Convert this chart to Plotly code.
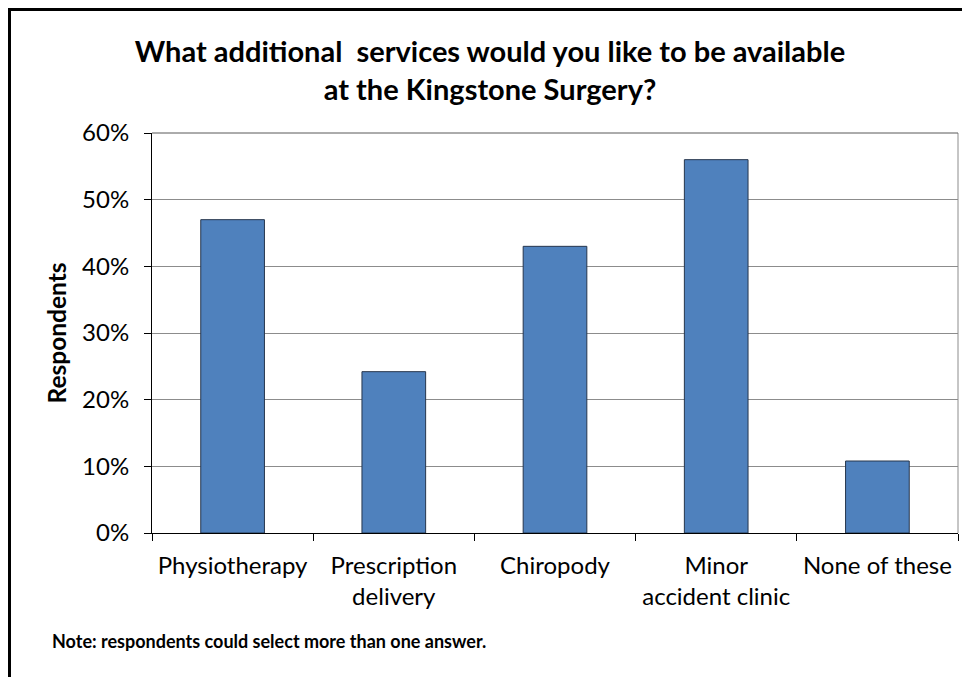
import plotly.graph_objects as go

categories = ["Physiotherapy", "Prescription<br>delivery", "Chiropody", "Minor<br>accident clinic", "None of these"]
values = [0.47, 0.242, 0.43, 0.56, 0.108]
y_ticks = [0, 0.1, 0.2, 0.3, 0.4, 0.5, 0.6]
y_tick_labels = ["0%", "10%", "20%", "30%", "40%", "50%", "60%"]
title_text = "<b>What additional  services would you like to be available<br>at the Kingstone Surgery?</b>"
y_title = "<b>Respondents</b>"
note_text = "<b>Note: respondents could select more than one answer.</b>"

FONT = "Lato, Open Sans, sans-serif"

# page has an 8px body margin: work in page coords, convert to figure coords
O = 8
W, H = 970 - O, 677 - O
L, R, T, B = 152 - O, 958 - O, 133 - O, 533 - O
pw, ph = R - L, B - T


def px(x):
    return (x - O - L) / pw


def py(y):
    return (B - (y - O)) / ph


fig = go.Figure()
fig.add_trace(go.Bar(
    x=categories, y=values, width=0.395,
    marker=dict(color="#4F81BD", line=dict(color="#26364d", width=1)),
    hoverinfo="skip",
))

fig.update_layout(
    width=W, height=H,
    margin=dict(l=L, r=W - R, t=T, b=H - B, autoexpand=False),
    paper_bgcolor="white", plot_bgcolor="white",
    showlegend=False,
    font=dict(family=FONT, size=24, color="#000000"),
    title=dict(text=title_text, xref="paper", x=px(490), xanchor="center",
               yref="container", y=1 - (62 - O) / H, yanchor="middle",
               font=dict(family=FONT, size=29, color="#000000")),
    xaxis=dict(
        showline=True, linecolor="#000000", linewidth=1,
        ticks="outside", ticklen=7, tickcolor="#000000", tickson="boundaries",
        showgrid=False, tickfont=dict(family=FONT, size=24), mirror=False,
        ticklabelstandoff=11,
    ),
    yaxis=dict(
        range=[0, 0.6], tickvals=y_ticks, ticktext=y_tick_labels,
        showline=True, linecolor="#000000", linewidth=1,
        ticks="outside", ticklen=7, tickcolor="#000000",
        showgrid=True, gridcolor="#8c8c8c", gridwidth=1,
        tickfont=dict(family=FONT, size=24), zeroline=False,
        ticklabelstandoff=10,
        title=dict(text=y_title, font=dict(family=FONT, size=24.5), standoff=8),
    ),
    shapes=[
        dict(type="line", xref="paper", yref="paper", x0=1, x1=1, y0=0, y1=1,
             line=dict(color="#8c8c8c", width=1)),
        dict(type="line", xref="paper", yref="paper", x0=0, x1=1, y0=1, y1=1,
             line=dict(color="#595959", width=1)),
        # outer frame (left & top)
        dict(type="line", xref="paper", yref="paper", x0=px(9.5), x1=px(9.5), y0=py(700), y1=py(8),
             line=dict(color="#000000", width=3)),
        dict(type="line", xref="paper", yref="paper", x0=px(8), x1=px(990), y0=py(9.5), y1=py(9.5),
             line=dict(color="#000000", width=3)),
    ],
    annotations=[
        dict(text=note_text, xref="paper", yref="paper", x=px(50), y=py(641),
             xanchor="left", yanchor="middle", showarrow=False,
             font=dict(family=FONT, size=18, color="#000000")),
    ],
)

fig.write_html("out.html")
